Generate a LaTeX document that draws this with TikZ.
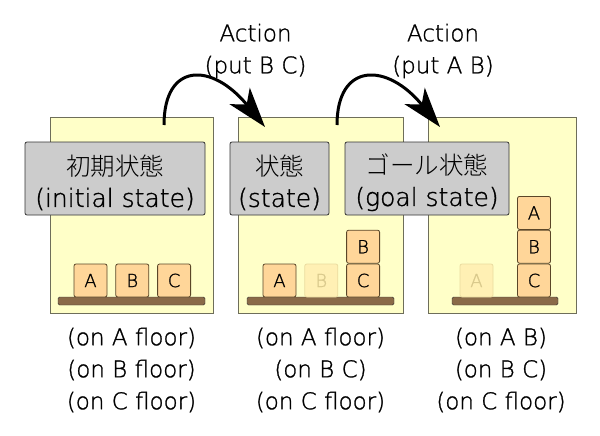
\documentclass[tikz,border=0pt]{standalone}
\usepackage{fontspec}
\setmainfont{DejaVu Sans ExtraLight}[FakeBold=1.2]
\newfontfamily\jpfont{Noto Sans CJK JP Light}
\usetikzlibrary{arrows.meta, positioning}

\definecolor{panelFill}{HTML}{FFFFC8}
\definecolor{panelLine}{HTML}{6E6E5A}
\definecolor{labelFill}{HTML}{CCCCCC}
\definecolor{labelLine}{HTML}{333333}
\definecolor{blockFill}{HTML}{FFD699}
\definecolor{blockLine}{HTML}{5A4628}
\definecolor{ghostFill}{HTML}{FFF0B4}
\definecolor{ghostLine}{HTML}{EADCA0}
\definecolor{ghostText}{HTML}{D9C98C}
\definecolor{floorFill}{HTML}{8A6A48}

\newcommand{\jptitle}[1]{{\jpfont\fontsize{24.5}{31}\selectfont\rule{0pt}{29pt}#1}}

\tikzstyle{panel} = [rectangle, draw=panelLine, fill=panelFill, minimum height=196pt, inner sep=0pt, line width=0.8pt]
\tikzstyle{stateLabel} = [rectangle, rounded corners=2pt, draw=labelLine, fill=labelFill, minimum height=73pt,
inner sep=0pt, align=center, font=\fontsize{25}{31}\selectfont, line width=0.8pt]
\tikzstyle{block} = [rectangle, rounded corners=2pt, draw=blockLine, fill=blockFill, minimum width=33pt,
minimum height=33pt, inner sep=0pt, font=\fontsize{18}{18}\selectfont, line width=0.8pt]
\tikzstyle{ghost} = [block, draw=ghostLine, fill=ghostFill, text=ghostText]
\tikzstyle{floor} = [rectangle, rounded corners=1.5pt, draw=black!80, fill=floorFill, minimum height=8pt, inner sep=0pt]
\tikzstyle{facts} = [align=center, font=\fontsize{23}{32}\selectfont, inner sep=0pt]
\tikzstyle{action} = [-{Stealth[length=40pt, width=26pt, inset=11pt]}, line width=3pt]

\begin{document}
\begin{tikzpicture}[x=1pt, y=-1pt]
    \useasboundingbox (0,0) rectangle (600,436);

    \node (initPanel) [panel, minimum width=163pt] at (131.5,215) {};
    \node (midPanel) [panel, minimum width=165pt, right=25pt of initPanel] {};
    \node (goalPanel) [panel, minimum width=148pt, right=24pt of midPanel] {};

    % floors and blocks
    \node (initFloor) [floor, minimum width=147pt] at (131.5,301) {};
    \node (midFloor) [floor, minimum width=147pt] at (320.5,301) {};
    \node (goalFloor) [floor, minimum width=106pt] at (505,301) {};

    \node (initA) [block] at (90.5,280.5) {A};
    \node (initB) [block, right=8pt of initA] {B};
    \node (initC) [block, right=8pt of initB] {C};

    \node (midA) [block] at (279.5,280.5) {A};
    \node (midGhostB) [ghost, right=8pt of midA] {B};
    \node (midC) [block, right=8pt of midGhostB] {C};
    \node (midB) [block, above=0pt of midC] {B};

    \node (goalGhostA) [ghost] at (476.5,280.5) {A};
    \node (goalC) [block] at (534,280.5) {C};
    \node (goalB) [block, above=0pt of goalC] {B};
    \node (goalA) [block, above=0pt of goalB] {A};

    % state labels
    \node (initLabel) [stateLabel, minimum width=180pt] at (115,178.5) {\jptitle{初期状態}\\(initial state)};
    \node (midLabel) [stateLabel, minimum width=99pt] at (279.5,178.5) {\jptitle{状態}\\(state)};
    \node (goalLabel) [stateLabel, minimum width=164pt] at (427,178.5) {\jptitle{ゴール状態}\\(goal state)};

    \node (initFacts) [facts] at (131.5,370) {(on A floor)\\(on B floor)\\(on C floor)};
    \node (midFacts) [facts] at (320.5,370) {(on A floor)\\(on B C)\\(on C floor)};
    \node (goalFacts) [facts] at (501,370) {(on A B)\\(on B C)\\(on C floor)};

    % actions
    \node (putBC) [facts] at (255.5,51) {Action\\(put B C)};
    \node (putAB) [facts] at (443,51) {Action\\(put A B)};

    \coordinate (fromInit) at (164,125);
    \coordinate (toMid) at (265,127);
    \coordinate (fromMid) at (337,125);
    \coordinate (toGoal) at (440,127);
    \draw[action] (fromInit) .. controls (164,62) and (212,62) .. (toMid);
    \draw[action] (fromMid) .. controls (337,62) and (387,62) .. (toGoal);
\end{tikzpicture}
\end{document}
